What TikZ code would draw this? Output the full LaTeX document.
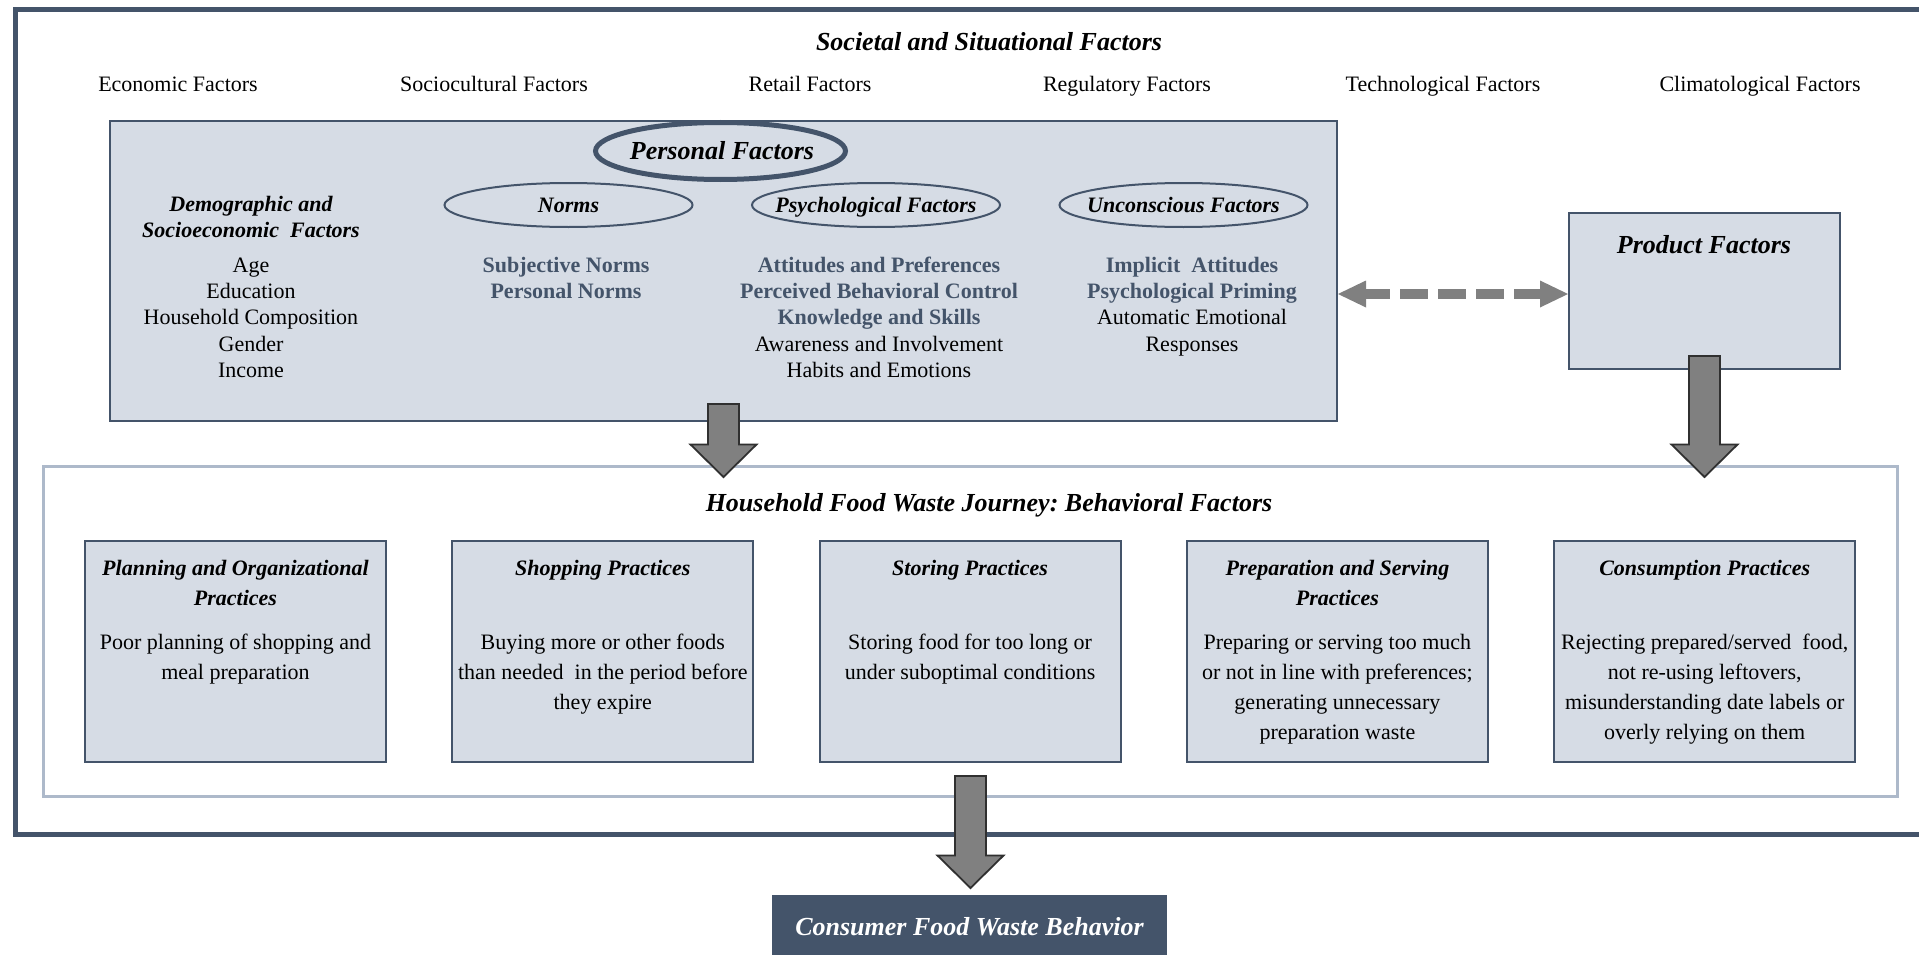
\documentclass[tikz,border=0pt]{standalone}
\usepackage{fontspec}
\setmainfont{Liberation Serif}
\usetikzlibrary{shapes.geometric,calc}
\frenchspacing

\definecolor{slate}{HTML}{44546A}
\definecolor{panel}{HTML}{D6DCE5}
\definecolor{journeyline}{HTML}{ADB9CA}
\definecolor{arrowfill}{HTML}{808080}
\definecolor{arrowedge}{HTML}{303030}

\newcommand\setfs[2]{\fontsize{#1}{#2}\selectfont}
\newcommand\keyitem[1]{\textcolor{slate}{\bfseries #1}}

% downward block arrow from a start coordinate to a tip coordinate
\newcommand\blockarrow[2]{%
  \filldraw[blockarrow] let \p1=(#1), \p2=(#2) in
    (\x1-15.5pt,\y1) -- (\x1+15.5pt,\y1) -- (\x1+15.5pt,\y2+32.5pt)
    -- (\x1+33pt,\y2+32.5pt) -- (\x1,\y2) -- (\x1-33pt,\y2+32.5pt)
    -- (\x1-15.5pt,\y2+32.5pt) -- cycle;}

\tikzset{
  txt/.style={inner sep=0pt, font=\setfs{22}{26.3}},
  txtbi/.style={inner sep=0pt, font=\setfs{22}{26.3}\bfseries\itshape},
  bigbi/.style={inner sep=0pt, font=\setfs{26}{30}\bfseries\itshape},
  column/.style={inner sep=0pt, align=center, anchor=north, font=\setfs{22}{26.3}},
  boxhead/.style={inner sep=0pt, align=center, anchor=north, font=\setfs{22}{30}\bfseries\itshape},
  boxbody/.style={inner sep=0pt, align=center, anchor=north, font=\setfs{22}{30}},
  panelbox/.style={draw=slate, fill=panel, line width=2pt, inner sep=0pt, anchor=north west},
  subell/.style={ellipse, draw=slate, fill=panel, line width=2pt, inner sep=0pt,
    minimum width=248pt, minimum height=44pt},
  practice/.style={panelbox, minimum width=301pt, minimum height=221pt},
  blockarrow/.style={fill=arrowfill, draw=arrowedge, line width=1.8pt, line join=miter},
}

\begin{document}
\begin{tikzpicture}[x=1pt, y=-1pt]
\useasboundingbox (0,0) rectangle (1919,955);
\fill[white] (0,0) rectangle (1919,955);

% outer frame of societal and situational factors (open to the right)
\draw[slate, line width=5pt, line join=miter] (1919,9.5) -- (15.5,9.5) -- (15.5,834.5) -- (1919,834.5);

\node[bigbi, anchor=base] (societal) at (989,51) {Societal and Situational Factors};
\node[txt, anchor=base] (econ) at (178,92) {Economic Factors};
\node[txt, anchor=base] (socio) at (494,92) {Sociocultural Factors};
\node[txt, anchor=base] (retail) at (810,92) {Retail Factors};
\node[txt, anchor=base] (regul) at (1127,92) {Regulatory Factors};
\node[txt, anchor=base] (techn) at (1443,92) {Technological Factors};
\node[txt, anchor=base] (clim) at (1760,92) {Climatological Factors};

% personal factors panel
\node[panelbox, minimum width=1227pt, minimum height=300pt] (pers) at (109,120) {};
\node[ellipse, draw=slate, fill=panel, line width=5pt, inner sep=0pt,
      minimum width=250pt, minimum height=57pt] (persell) at (720.5,151) {};
\node[bigbi, anchor=base] (perstitle) at (722,160) {Personal Factors};

\node[subell] (normsell) at (568.5,205) {};
\node[subell] (psychell) at (876,205) {};
\node[subell] (uncell) at (1183.5,205) {};
\node[txtbi, anchor=base] (normsT) at (568.5,212) {Norms};
\node[txtbi, anchor=base] (psychT) at (876,212) {Psychological Factors};
\node[txtbi, anchor=base] (uncT) at (1183.5,212) {Unconscious Factors};

\node[column, font=\setfs{22}{26.7}\bfseries\itshape] (demoT) at (251,192.3)
  {\strut Demographic and\\Socioeconomic\ \ Factors};
\node[column] (demo) at (251,253.6)
  {\strut Age\\Education\\Household Composition\\Gender\\Income};
\node[column] (norms) at (566,253.6)
  {\strut\keyitem{Subjective Norms}\\\keyitem{Personal Norms}};
\node[column] (psych) at (879,253.6)
  {\strut\keyitem{Attitudes and Preferences}\\\keyitem{Perceived Behavioral Control}\\
   \keyitem{Knowledge and Skills}\\Awareness and Involvement\\Habits and Emotions};
\node[column] (unc) at (1192,253.6)
  {\strut\keyitem{Implicit\ \ Attitudes}\\\keyitem{Psychological Priming}\\
   Automatic Emotional\\Responses};

% product factors
\node[panelbox, minimum width=271pt, minimum height=156pt] (prod) at (1568,212) {};
\node[bigbi, anchor=base] (prodT) at (1704,253) {Product Factors};

% two-way dashed link between personal and product factors
\path let \p1=($(prod.west -| pers.east)+(0,3)$), \p2=($(prod.west)+(0,3)$) in
  [fill=arrowfill]
  (\p1) -- (\x1+28pt,\y1+13.5pt) -- (\x1+28pt,\y1-13.5pt) -- cycle
  (\p2) -- (\x2-28pt,\y2+13.5pt) -- (\x2-28pt,\y2-13.5pt) -- cycle;
\draw[arrowfill, line width=10pt, dash pattern=on 28pt off 10pt, dash phase=3pt]
  let \p1=($(prod.west -| pers.east)+(0,3)$), \p2=($(prod.west)+(0,3)$) in
  (\x1+27pt,\y1) -- (\x2-27pt,\y2);

% household food waste journey
\node[draw=journeyline, fill=white, line width=3pt, inner sep=0pt, anchor=north west,
      minimum width=1854pt, minimum height=330pt] (hh) at (42,465) {};
\node[bigbi, anchor=base] (hhT) at (989,511) {Household Food Waste Journey: Behavioral Factors};

\node[practice] (plan) at (84,540) {};
\node[practice] (shop) at (451.3,540) {};
\node[practice] (store) at (818.6,540) {};
\node[practice] (prep) at (1185.9,540) {};
\node[practice] (cons) at (1553.2,540) {};

\node[boxhead] (planT) at ([yshift=-14pt]plan.north) {\strut Planning and Organizational\\Practices};
\node[boxhead] (shopT) at ([yshift=-14pt]shop.north) {\strut Shopping Practices};
\node[boxhead] (storeT) at ([yshift=-14pt]store.north) {\strut Storing Practices};
\node[boxhead] (prepT) at ([yshift=-14pt]prep.north) {\strut Preparation and Serving\\Practices};
\node[boxhead] (consT) at ([yshift=-14pt]cons.north) {\strut Consumption Practices};

\node[boxbody] (planB) at ([yshift=-88pt]plan.north) {\strut Poor planning of shopping and\\meal preparation};
\node[boxbody] (shopB) at ([yshift=-88pt]shop.north) {\strut Buying more or other foods\\than needed\ \ in the period before\\they expire};
\node[boxbody] (storeB) at ([yshift=-88pt]store.north) {\strut Storing food for too long or\\under suboptimal conditions};
\node[boxbody] (prepB) at ([yshift=-88pt]prep.north) {\strut Preparing or serving too much\\or not in line with preferences;\\generating unnecessary\\preparation waste};
\node[boxbody] (consB) at ([yshift=-88pt]cons.north) {\strut Rejecting prepared/served\ \ food,\\not re-using leftovers,\\misunderstanding date labels or\\overly relying on them};

% outcome
\node[fill=slate, inner sep=0pt, anchor=north west, minimum width=395pt, minimum height=60pt] (waste) at (772,895) {};
\node[bigbi, anchor=base, text=white] (wasteT) at (969.5,935) {Consumer Food Waste Behavior};

% block arrows
\coordinate (a1s) at ($(pers.south)+(0,-18)$);
\coordinate (a1e) at ($(pers.south |- hh.north)+(0,12)$);
\coordinate (a2s) at ($(prod.south)+(0,-14)$);
\coordinate (a2e) at ($(prod.south |- hh.north)+(0,12)$);
\coordinate (a3s) at ($(hh.south)+(0,-22)$);
\coordinate (a3e) at ($(hh.south |- waste.north)+(0,-7)$);
\blockarrow{a1s}{a1e}
\blockarrow{a2s}{a2e}
\blockarrow{a3s}{a3e}
\end{tikzpicture}
\end{document}
